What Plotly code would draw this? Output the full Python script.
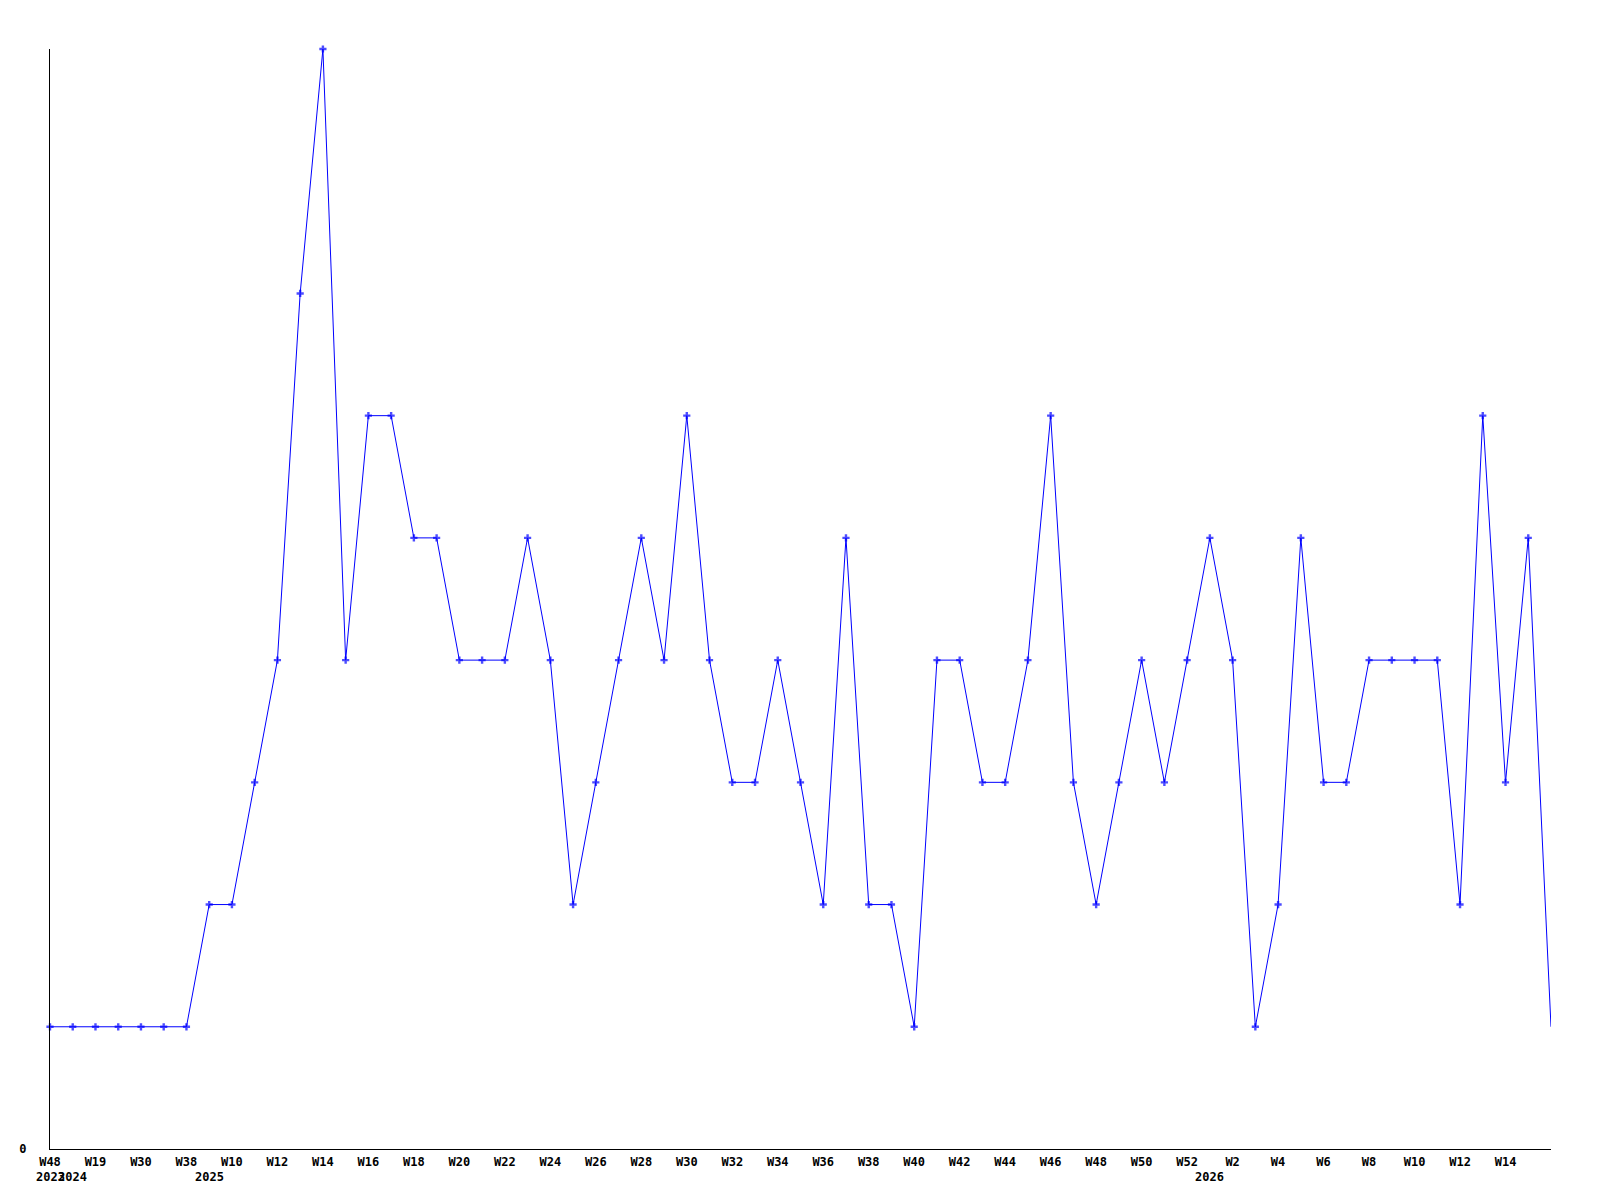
import plotly.graph_objects as go

# week buckets (year, week label) in plot order
years = [2023, 2024, 2024, 2024, 2024, 2024, 2024] + [2025] * 44 + [2026] * 16
weeks = ["W48", "W8", "W19", "W24", "W30", "W35", "W38",
         "W9"] + [f"W{w}" for w in range(10, 53)] + [f"W{w}" for w in range(1, 17)]
counts = [1, 1, 1, 1, 1, 1, 1,
          2, 2, 3, 4, 7, 9, 4, 6, 6, 5, 5, 4, 4, 4, 5, 4, 2, 3, 4, 5, 4, 6, 4,
          3, 3, 4, 3, 2, 5, 2, 2, 1, 4, 4, 3, 3, 4, 6, 3, 2, 3, 4, 3, 4,
          5, 4, 1, 2, 5, 3, 3, 4, 4, 4, 4, 2, 6, 3, 5, 1]
y_max = 9

cats = [f"{y}-{w}" for y, w in zip(years, weeks)]

font = dict(family="DejaVu Sans Mono", size=12, color="black", weight="bold")

# last point is on the edge, drawn without a marker
sizes = [6] * (len(cats) - 1) + [0]

fig = go.Figure()
fig.add_trace(go.Scatter(
    x=cats, y=counts, mode="lines+markers",
    line=dict(color="#0000ff", width=1),
    marker=dict(symbol="cross", size=sizes, color="#0000ff", line=dict(width=0)),
    cliponaxis=False,
))

# year labels under the first week of each year
seen = set()
for c, y in zip(cats, years):
    if y not in seen:
        seen.add(y)
        fig.add_annotation(x=c, y=0, xref="x", yref="paper", text=str(y),
                           showarrow=False, yanchor="top", yshift=-19, font=font)

# every other week gets a label, the last (edge) one doesn't
tick_idx = list(range(0, len(cats) - 1, 2))
fig.update_xaxes(type="category", range=[0, len(cats) - 1],
                 tickvals=[cats[i] for i in tick_idx],
                 ticktext=[weeks[i] for i in tick_idx], tickangle=0,
                 showline=True, linecolor="black", linewidth=1, automargin=False,
                 showgrid=False, zeroline=False, ticks="", tickfont=font,
                 ticklabelstandoff=2)
fig.update_yaxes(range=[0, y_max], tickvals=[0], ticktext=["0"],
                 showline=True, linecolor="black", linewidth=1, automargin=False,
                 showgrid=False, zeroline=False, ticks="", tickfont=font,
                 ticklabelstandoff=20)
# page body adds 8px, margins compensate
fig.update_layout(width=1600, height=1200, showlegend=False,
                  plot_bgcolor="white", paper_bgcolor="white",
                  margin=dict(l=42, r=57, t=41, b=59))
fig.write_html("out.html")
